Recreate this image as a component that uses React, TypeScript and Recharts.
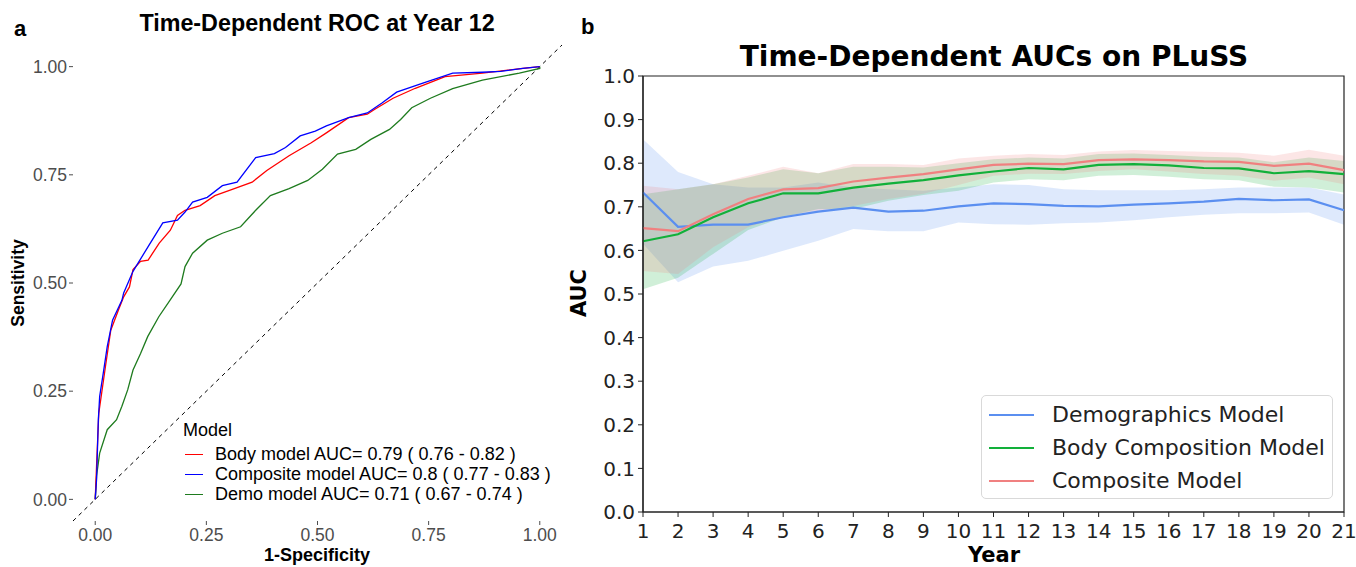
import React from "react";
import {
  LineChart,
  Line,
  XAxis,
  YAxis,
  ReferenceLine,
  ComposedChart,
  Area,
  ReferenceArea,
} from "recharts";

// ---------- Panel a: ROC at year 12 ----------
const rocTicks = [0, 0.25, 0.5, 0.75, 1];
const rocBody: [number, number][] = [
  [0, 0], [0.003, 0.077], [0.008, 0.199], [0.023, 0.307], [0.035, 0.391], [0.052, 0.437],
  [0.064, 0.468], [0.077, 0.491], [0.085, 0.531], [0.102, 0.55], [0.119, 0.553], [0.144, 0.592],
  [0.169, 0.622], [0.185, 0.656], [0.202, 0.668], [0.236, 0.679], [0.269, 0.702], [0.302, 0.714],
  [0.353, 0.733], [0.386, 0.76], [0.436, 0.794], [0.486, 0.824], [0.52, 0.847], [0.57, 0.882],
  [0.612, 0.89], [0.628, 0.901], [0.67, 0.927], [0.72, 0.95], [0.787, 0.977], [0.871, 0.985],
  [0.962, 0.996], [1, 1],
];
const rocComposite: [number, number][] = [
  [0, 0], [0.003, 0.046], [0.007, 0.184], [0.01, 0.238], [0.018, 0.291], [0.027, 0.353],
  [0.039, 0.414], [0.06, 0.46], [0.064, 0.477], [0.085, 0.527], [0.119, 0.584], [0.152, 0.639],
  [0.185, 0.645], [0.202, 0.664], [0.219, 0.687], [0.252, 0.698], [0.286, 0.725], [0.319, 0.733],
  [0.361, 0.79], [0.403, 0.799], [0.428, 0.813], [0.461, 0.84], [0.495, 0.851], [0.52, 0.863],
  [0.57, 0.882], [0.612, 0.893], [0.645, 0.916], [0.678, 0.941], [0.737, 0.962], [0.804, 0.985],
  [0.871, 0.987], [0.912, 0.989], [0.962, 0.996], [1, 1],
];
const rocDemo: [number, number][] = [
  [0, 0], [0.003, 0.054], [0.01, 0.107], [0.027, 0.161], [0.048, 0.184], [0.06, 0.215],
  [0.073, 0.253], [0.085, 0.299], [0.102, 0.337], [0.118, 0.376], [0.143, 0.422], [0.168, 0.46],
  [0.193, 0.498], [0.202, 0.538], [0.219, 0.569], [0.252, 0.599], [0.286, 0.615], [0.327, 0.63],
  [0.361, 0.668], [0.394, 0.702], [0.436, 0.718], [0.478, 0.737], [0.511, 0.763], [0.545, 0.798],
  [0.586, 0.809], [0.62, 0.832], [0.662, 0.855], [0.687, 0.878], [0.712, 0.905], [0.754, 0.927],
  [0.804, 0.949], [0.871, 0.969], [0.954, 0.985], [1, 0.996], [1, 1],
];
const rocNames = [
  "Body model AUC= 0.79 ( 0.76 - 0.82 )",
  "Composite model AUC= 0.8 ( 0.77 - 0.83 )",
  "Demo model AUC= 0.71 ( 0.67 - 0.74 )",
];
const rocColors = ["#FF0000", "#0000FF", "#1E7B1E"];

// ---------- Panel b: time-dependent AUCs ----------
const years = [1, 2, 3, 4, 5, 6, 7, 8, 9, 10, 11, 12, 13, 14, 15, 16, 17, 18, 19, 20, 21];
const aucTicks = [0, 0.1, 0.2, 0.3, 0.4, 0.5, 0.6, 0.7, 0.8, 0.9, 1.0];
const demoMean = [0.733, 0.654, 0.659, 0.659, 0.676, 0.689, 0.698, 0.689, 0.691, 0.701, 0.708, 0.706, 0.702, 0.701, 0.705, 0.708, 0.712, 0.718, 0.715, 0.717, 0.692];
const demoHi = [0.855, 0.78, 0.752, 0.744, 0.744, 0.756, 0.744, 0.74, 0.737, 0.744, 0.752, 0.75, 0.74, 0.738, 0.738, 0.738, 0.74, 0.744, 0.744, 0.744, 0.728];
const demoLo = [0.615, 0.527, 0.563, 0.576, 0.599, 0.622, 0.649, 0.644, 0.644, 0.664, 0.66, 0.659, 0.662, 0.664, 0.669, 0.676, 0.682, 0.685, 0.685, 0.687, 0.659];
const bodyMean = [0.621, 0.637, 0.676, 0.708, 0.731, 0.731, 0.744, 0.753, 0.761, 0.772, 0.781, 0.789, 0.786, 0.796, 0.798, 0.795, 0.789, 0.788, 0.777, 0.782, 0.775];
const bodyHi = [0.729, 0.74, 0.752, 0.767, 0.786, 0.777, 0.792, 0.792, 0.79, 0.8, 0.809, 0.813, 0.811, 0.821, 0.822, 0.819, 0.815, 0.813, 0.802, 0.813, 0.805];
const bodyLo = [0.511, 0.537, 0.592, 0.647, 0.676, 0.695, 0.695, 0.714, 0.727, 0.737, 0.756, 0.763, 0.761, 0.771, 0.773, 0.769, 0.763, 0.761, 0.746, 0.744, 0.733];
const compMean = [0.651, 0.644, 0.683, 0.718, 0.74, 0.743, 0.758, 0.767, 0.775, 0.786, 0.796, 0.799, 0.798, 0.807, 0.809, 0.807, 0.804, 0.803, 0.794, 0.799, 0.784];
const compHi = [0.748, 0.74, 0.752, 0.771, 0.792, 0.777, 0.798, 0.798, 0.796, 0.811, 0.817, 0.821, 0.819, 0.827, 0.83, 0.828, 0.826, 0.824, 0.817, 0.831, 0.817];
const compLo = [0.553, 0.546, 0.607, 0.653, 0.679, 0.691, 0.702, 0.718, 0.73, 0.75, 0.771, 0.776, 0.775, 0.782, 0.786, 0.781, 0.775, 0.771, 0.76, 0.767, 0.752];
const aucNames = ["Demographics Model", "Body Composition Model", "Composite Model"];
const aucColors = ["#5B8FF0", "#12B03A", "#F08080"];

const aucRows = years.map((y, i) => ({
  year: y,
  demo: demoMean[i],
  demoBand: [demoLo[i], demoHi[i]],
  body: bodyMean[i],
  bodyBand: [bodyLo[i], bodyHi[i]],
  comp: compMean[i],
  compBand: [compLo[i], compHi[i]],
}));

const toPts = (arr: [number, number][]) => arr.map(([fpr, tpr]) => ({ fpr, tpr }));

const LEFT_FONT = "'Liberation Sans', Arial, sans-serif";
const RIGHT_FONT = "'DejaVu Sans', sans-serif";

const abs = (s: React.CSSProperties): React.CSSProperties => ({ position: "absolute", whiteSpace: "nowrap", ...s });

function RocLegend() {
  return (
    <div style={abs({ left: 183, top: 419, fontFamily: LEFT_FONT, color: "#000", fontSize: 18 })}>
      <div style={{ height: 22, lineHeight: "22px" }}>Model</div>
      <div style={{ height: 3 }} />
      {rocNames.map((n, i) => (
        <div key={n} style={{ display: "flex", alignItems: "center", height: 20 }}>
          <div style={{ marginLeft: 2, width: 18, height: 0, borderTop: `1.5px solid ${rocColors[i]}`, marginRight: 12 }} />
          <span style={{ lineHeight: "20px" }}>{n}</span>
        </div>
      ))}
    </div>
  );
}

function AucLegend() {
  return (
    <div
      style={abs({
        left: 981,
        top: 395,
        width: 352,
        height: 104,
        boxSizing: "border-box",
        fontFamily: RIGHT_FONT,
        fontSize: 22,
        color: "#222",
        border: "1.5px solid #d9d9d9",
        borderRadius: 5,
        background: "rgba(255,255,255,0.85)",
        paddingTop: 2,
      })}
    >
      {aucNames.map((n, i) => (
        <div key={n} style={{ display: "flex", alignItems: "center", height: 33 }}>
          <div style={{ marginLeft: 7, width: 45, height: 0, borderTop: `2.5px solid ${aucColors[i]}`, marginRight: 18 }} />
          <span style={{ lineHeight: "33px" }}>{n}</span>
        </div>
      ))}
    </div>
  );
}

export default function App() {
  return (
    <div style={{ position: "absolute", left: 0, top: 0, width: 1356, height: 567, background: "#fff", overflow: "hidden" }}>
      {/* Panel a */}
      <div style={abs({ left: 14, top: 16, fontFamily: LEFT_FONT, fontWeight: 700, fontSize: 22 })}>a</div>
      <div style={abs({ left: 317, top: 23, fontFamily: LEFT_FONT, fontWeight: 700, fontSize: 23.3, transform: "translate(-50%, -50%)" })}>
        Time-Dependent ROC at Year 12
      </div>
      <div style={abs({ left: 0, top: 0 })}>
        <LineChart width={580} height={567} margin={{ top: 45, right: 18, bottom: 0, left: 0 }}>
          <XAxis
            type="number"
            dataKey="fpr"
            domain={[-0.05, 1.05]}
            ticks={rocTicks}
            allowDataOverflow
            axisLine={false}
            tickLine={{ stroke: "#4d4d4d" }}
            tickSize={4}
            tickMargin={4}
            height={46}
            tickFormatter={(v: number) => v.toFixed(2)}
            tick={{ fill: "#4d4d4d", fontSize: 17.5, fontFamily: LEFT_FONT }}
          />
          <YAxis
            type="number"
            dataKey="tpr"
            domain={[-0.05, 1.05]}
            ticks={rocTicks}
            allowDataOverflow
            axisLine={false}
            tickLine={{ stroke: "#4d4d4d" }}
            tickSize={4}
            tickMargin={2}
            width={73}
            tickFormatter={(v: number) => v.toFixed(2)}
            tick={{ fill: "#4d4d4d", fontSize: 17.5, fontFamily: LEFT_FONT }}
          />
          <ReferenceLine
            segment={[{ x: -0.05, y: -0.05 }, { x: 1.05, y: 1.05 }]}
            stroke="#000"
            strokeDasharray="4 4"
            strokeWidth={1}
          />
          <Line data={toPts(rocDemo)} dataKey="tpr" stroke={rocColors[2]} strokeWidth={1.3} dot={false} isAnimationActive={false} type="linear" />
          <Line data={toPts(rocBody)} dataKey="tpr" stroke={rocColors[0]} strokeWidth={1.3} dot={false} isAnimationActive={false} type="linear" />
          <Line data={toPts(rocComposite)} dataKey="tpr" stroke={rocColors[1]} strokeWidth={1.3} dot={false} isAnimationActive={false} type="linear" />
        </LineChart>
      </div>
      <RocLegend />
      <div
        style={abs({
          left: 18,
          top: 283,
          fontFamily: LEFT_FONT,
          fontWeight: 700,
          fontSize: 17.5,
          transform: "translate(-50%, -50%) rotate(-90deg)",
        })}
      >
        Sensitivity
      </div>
      <div style={abs({ left: 317, top: 555, fontFamily: LEFT_FONT, fontWeight: 700, fontSize: 18, transform: "translate(-50%, -50%)" })}>
        1-Specificity
      </div>

      {/* Panel b */}
      <div style={abs({ left: 581, top: 14, fontFamily: LEFT_FONT, fontWeight: 700, fontSize: 22 })}>b</div>
      <div style={abs({ left: 994, top: 56, fontFamily: RIGHT_FONT, fontWeight: 700, fontSize: 28, transform: "translate(-50%, -50%)" })}>
        Time-Dependent AUCs on PLuSS
      </div>
      <div style={abs({ left: 580, top: 0 })}>
        <ComposedChart width={776} height={567} data={aucRows} margin={{ top: 76, right: 12, bottom: 0, left: 0 }}>
          <XAxis
            type="number"
            dataKey="year"
            domain={[1, 21]}
            ticks={years}
            interval={0}
            axisLine={{ stroke: "#222", strokeWidth: 1.2 }}
            tickLine={{ stroke: "#222" }}
            tickSize={5}
            tickMargin={7}
            height={55}
            tick={{ fill: "#222", fontSize: 20, fontFamily: RIGHT_FONT }}
          />
          <YAxis
            type="number"
            domain={[0, 1]}
            ticks={aucTicks}
            interval={0}
            axisLine={{ stroke: "#222", strokeWidth: 1.2 }}
            tickLine={{ stroke: "#222" }}
            tickSize={5}
            tickMargin={3}
            width={63}
            tickFormatter={(v: number) => v.toFixed(1)}
            tick={{ fill: "#222", fontSize: 20, fontFamily: RIGHT_FONT }}
          />
          <Area dataKey="demoBand" stroke="none" fill={aucColors[0]} fillOpacity={0.2} isAnimationActive={false} type="linear" />
          <Area dataKey="bodyBand" stroke="none" fill={aucColors[1]} fillOpacity={0.2} isAnimationActive={false} type="linear" />
          <Area dataKey="compBand" stroke="none" fill={aucColors[2]} fillOpacity={0.2} isAnimationActive={false} type="linear" />
          <Line dataKey="demo" stroke={aucColors[0]} strokeWidth={2.2} dot={false} isAnimationActive={false} type="linear" />
          <Line dataKey="body" stroke={aucColors[1]} strokeWidth={2.2} dot={false} isAnimationActive={false} type="linear" />
          <Line dataKey="comp" stroke={aucColors[2]} strokeWidth={2.2} dot={false} isAnimationActive={false} type="linear" />
          <ReferenceArea x1={1} x2={21} y1={0} y2={1} fill="none" stroke="#222" strokeWidth={1.2} fillOpacity={0} ifOverflow="visible" />
        </ComposedChart>
      </div>
      <AucLegend />
      <div
        style={abs({
          left: 579,
          top: 293,
          fontFamily: RIGHT_FONT,
          fontWeight: 700,
          fontSize: 21,
          transform: "translate(-50%, -50%) rotate(-90deg)",
        })}
      >
        AUC
      </div>
      <div style={abs({ left: 994, top: 555, fontFamily: RIGHT_FONT, fontWeight: 700, fontSize: 21, transform: "translate(-50%, -50%)" })}>
        Year
      </div>
    </div>
  );
}
